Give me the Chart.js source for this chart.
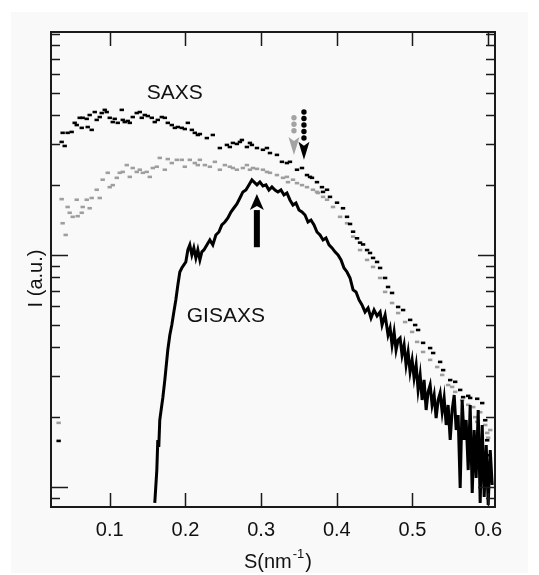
<!DOCTYPE html>
<html>
<head>
<meta charset="utf-8">
<script src="https://cdn.jsdelivr.net/npm/chart.js@4.4.0/dist/chart.umd.min.js"></script>
<style>
    html, body { margin: 0; padding: 0; background: #ffffff; }
</style>
</head>
<body>
<canvas id="grafica" width="539" height="575"></canvas>
<script>
// S (nm^-1) and I (a.u.), I = 1 at the lower decade tick

// SAXS, black dots
var saxsS = [
    0.0325, 0.0365, 0.0378, 0.0405, 0.0444, 0.0497, 0.0537, 0.0564, 0.0603, 0.0630,
    0.0643, 0.0696, 0.0709, 0.0735, 0.0762, 0.0802, 0.0828, 0.0868, 0.0894, 0.0934,
    0.0960, 0.1000, 0.1040, 0.1066, 0.1106, 0.1159, 0.1172, 0.1198, 0.1238, 0.1265,
    0.1304, 0.1357, 0.1397, 0.1423, 0.1463, 0.1503, 0.1556, 0.1595, 0.1635, 0.1688,
    0.1728, 0.1767, 0.1820, 0.1860, 0.1900, 0.1952, 0.1992, 0.2032, 0.2085, 0.2124,
    0.2164, 0.2191, 0.2283, 0.2362, 0.2455, 0.2548, 0.2587, 0.2627, 0.2680, 0.2720,
    0.2746, 0.2812, 0.2852, 0.2878, 0.2945, 0.3024, 0.3077, 0.3117, 0.3209, 0.3275,
    0.3341, 0.3381, 0.3474, 0.3540, 0.3606, 0.3646, 0.3672, 0.3738, 0.3804, 0.3818,
    0.3871, 0.3910, 0.4003, 0.4082, 0.4135, 0.4175, 0.4215, 0.4267, 0.4307, 0.4347,
    0.4400, 0.4439, 0.4479, 0.4532, 0.4572, 0.4638, 0.4677, 0.4730, 0.4810, 0.4876,
    0.4969, 0.5035, 0.5074, 0.5140, 0.5233, 0.5273, 0.5365, 0.5405, 0.5498, 0.5564,
    0.5630, 0.5669, 0.5736, 0.5762, 0.5855, 0.5921, 0.5961, 0.5987, 0.6013
];
var saxsI = [
    1.58, 30.7, 33.6, 29.5, 33.6, 33.9, 37.1, 36.3, 39.0, 35.3,
    39.0, 38.6, 35.6, 40.1, 34.6, 41.3, 38.2, 39.3, 40.9, 42.2,
    41.3, 39.0, 37.4, 38.6, 37.1, 42.2, 38.2, 37.4, 37.8, 37.1,
    39.3, 40.9, 41.3, 39.0, 40.1, 39.7, 39.0, 37.4, 38.2, 39.3,
    39.0, 37.1, 36.3, 35.3, 35.6, 35.3, 34.9, 37.1, 34.6, 33.6,
    32.9, 33.2, 31.9, 32.9, 28.9, 29.8, 29.2, 30.4, 30.1, 30.7,
    31.3, 29.2, 30.4, 29.8, 28.9, 28.4, 28.9, 27.5, 27.0, 25.2,
    24.9, 25.2, 23.3, 23.7, 22.1, 21.7, 21.5, 20.6, 19.6, 18.7,
    19.1, 17.8, 16.8, 15.9, 14.6, 13.6, 12.6, 11.8, 11.3, 11.1,
    10.5, 10.2, 9.71, 9.33, 8.79, 7.96, 7.28, 6.86, 5.97, 5.79,
    5.25, 4.99, 4.75, 4.18, 3.97, 3.78, 3.46, 3.19, 2.89, 2.84,
    2.62, 2.44, 2.47, 2.42, 2.40, 2.30, 1.94, 1.59, 1.37
];

// second SAXS curve, grey dots
var saxs2S = [
    0.0325, 0.0365, 0.0378, 0.0418, 0.0444, 0.0471, 0.0511, 0.0564, 0.0577, 0.0630,
    0.0643, 0.0696, 0.0735, 0.0762, 0.0828, 0.0868, 0.0907, 0.0974, 0.1000, 0.1040,
    0.1093, 0.1132, 0.1172, 0.1225, 0.1265, 0.1304, 0.1357, 0.1397, 0.1437, 0.1489,
    0.1529, 0.1569, 0.1622, 0.1661, 0.1728, 0.1767, 0.1820, 0.1886, 0.1952, 0.1992,
    0.2058, 0.2124, 0.2164, 0.2191, 0.2257, 0.2323, 0.2389, 0.2455, 0.2521, 0.2587,
    0.2627, 0.2680, 0.2759, 0.2812, 0.2852, 0.2892, 0.2945, 0.3024, 0.3077, 0.3117,
    0.3209, 0.3289, 0.3341, 0.3355, 0.3421, 0.3474, 0.3540, 0.3606, 0.3685, 0.3738,
    0.3752, 0.3818, 0.3871, 0.3950, 0.4043, 0.4135, 0.4215, 0.4307, 0.4400, 0.4479,
    0.4572, 0.4638, 0.4730, 0.4810, 0.4902, 0.4995, 0.5061, 0.5140, 0.5233, 0.5326,
    0.5392, 0.5471, 0.5524, 0.5564, 0.5656, 0.5736, 0.5802, 0.5828, 0.5855, 0.5895,
    0.5961, 0.5987, 0.6000, 0.6027
];
var saxs2I = [
    1.89, 17.4, 13.7, 12.2, 16.1, 15.2, 14.6, 17.3, 14.7, 15.2,
    16.1, 17.3, 15.9, 17.6, 19.1, 17.6, 21.1, 22.6, 19.6, 20.0,
    21.5, 22.6, 22.8, 24.4, 21.7, 23.7, 22.8, 23.3, 22.6, 22.8,
    21.7, 23.7, 24.0, 26.2, 23.3, 25.9, 24.9, 25.7, 25.7, 24.0,
    25.7, 24.9, 24.4, 25.7, 24.4, 24.0, 25.2, 23.3, 24.4, 24.0,
    23.7, 23.3, 23.7, 24.4, 23.3, 23.7, 23.5, 23.3, 22.8, 22.6,
    22.1, 21.5, 21.7, 20.6, 21.1, 20.4, 20.0, 19.6, 19.1, 18.7,
    18.5, 17.8, 17.3, 16.1, 14.6, 13.7, 12.0, 10.5, 9.52, 8.88,
    7.96, 6.93, 6.21, 5.62, 5.14, 4.66, 4.22, 3.82, 3.53, 3.29,
    3.04, 2.75, 2.70, 2.57, 2.37, 2.26, 2.21, 2.00, 1.91, 2.10,
    1.85, 1.71, 1.63, 1.76
];

// GISAXS, solid line
var gisS = [
    0.1595, 0.1622, 0.1635, 0.1648, 0.1661, 0.1688, 0.1701, 0.1728, 0.1741, 0.1767,
    0.1794, 0.1820, 0.1847, 0.1873, 0.1900, 0.1926, 0.1952, 0.1979, 0.2005, 0.2032,
    0.2058, 0.2085, 0.2111, 0.2138, 0.2164, 0.2191, 0.2217, 0.2244, 0.2283, 0.2323,
    0.2362, 0.2402, 0.2442, 0.2481, 0.2521, 0.2561, 0.2601, 0.2640, 0.2680, 0.2720,
    0.2759, 0.2799, 0.2839, 0.2878, 0.2918, 0.2945, 0.2984, 0.3024, 0.3064, 0.3103,
    0.3143, 0.3183, 0.3222, 0.3262, 0.3302, 0.3341, 0.3381, 0.3421, 0.3460, 0.3500,
    0.3540, 0.3580, 0.3619, 0.3659, 0.3699, 0.3738, 0.3778, 0.3818, 0.3857, 0.3897,
    0.3937, 0.3976, 0.4016, 0.4056, 0.4095, 0.4135, 0.4175, 0.4215, 0.4254, 0.4294,
    0.4333, 0.4373, 0.4413, 0.4452, 0.4492, 0.4532, 0.4572, 0.4598, 0.4638, 0.4677,
    0.4704, 0.4730, 0.4757, 0.4783, 0.4810, 0.4836, 0.4862, 0.4889, 0.4915, 0.4942,
    0.4968, 0.4995, 0.5021, 0.5048, 0.5074, 0.5101, 0.5127, 0.5153, 0.5180, 0.5206,
    0.5233, 0.5259, 0.5286, 0.5312, 0.5339, 0.5365, 0.5392, 0.5418, 0.5445, 0.5471,
    0.5498, 0.5524, 0.5551, 0.5577, 0.5603, 0.5630, 0.5656, 0.5683, 0.5709, 0.5736,
    0.5762, 0.5789, 0.5815, 0.5841, 0.5868, 0.5894, 0.5921, 0.5947, 0.5974, 0.6000,
    0.6027, 0.6053
];
var gisI = [
    0.854, 1.183, 1.595, 1.487, 1.944, 2.257, 2.419, 2.893, 3.195, 3.895,
    4.521, 4.993, 5.680, 6.399, 7.426, 8.448, 8.790, 9.056, 9.329, 10.51,
    11.05, 10.00, 10.72, 9.707, 10.51, 9.517, 10.31, 10.51, 11.05, 11.61,
    11.05, 12.19, 12.56, 13.47, 13.87, 14.44, 15.32, 15.94, 16.59, 17.60,
    18.69, 19.06, 20.04, 21.05, 20.44, 20.04, 20.64, 19.84, 20.04, 19.06,
    19.64, 19.06, 18.69, 19.06, 18.14, 18.50, 17.26, 16.42, 16.75, 15.63,
    15.32, 14.87, 13.87, 14.15, 13.47, 12.56, 12.19, 11.61, 11.84, 11.05,
    10.72, 10.31, 10.00, 9.517, 8.790, 8.448, 7.960, 7.067, 6.928, 6.399,
    6.089, 5.680, 5.909, 5.351, 5.794, 5.458, 5.680, 4.993, 5.513, 4.521,
    4.845, 4.094, 4.657, 3.895, 4.302, 4.388, 3.707, 4.094, 3.357, 3.819,
    3.132, 3.527, 2.950, 3.357, 2.619, 3.040, 2.371, 2.893, 2.147, 2.567,
    2.752, 2.257, 2.492, 1.983, 2.371, 2.542, 2.105, 2.419, 1.850, 2.257,
    1.595, 2.147, 2.492, 1.761, 2.043, 0.990, 2.371, 1.595, 1.944, 1.183,
    2.257, 0.942, 1.761, 1.093, 2.147, 0.854, 1.850, 0.906, 1.518, 0.837,
    1.443, 1.020
];

var xTicks = [0.1, 0.2, 0.3, 0.4, 0.5, 0.6];
var yMajorTicks = [1, 10];
var yMinorTicks = [0.9, 2, 3, 4, 5, 6, 7, 8, 9, 20, 30, 40, 50, 60, 70, 80, 90];
var xRange = [0.0224, 0.609];
var yRange = [0.82, 91.4];

// peak markers: S position, tail and tip intensity
var arrows = [
    { s: 0.2944, from: 10.8, to: 18.3, color: "#000000", dotted: false },
    { s: 0.3434, from: 39.0, to: 27.0, color: "#a3a3a3", dotted: true },
    { s: 0.3566, from: 41.3, to: 25.7, color: "#000000", dotted: true }
];
var labels = [
    { text: "SAXS", s: 0.1489, i: 47.0 },
    { text: "GISAXS", s: 0.2017, i: 5.14 }
];

function puntos(xs, ys) {
    var out = [];
    for (var k = 0; k < xs.length; k++) {
        out.push({ x: xs[k], y: ys[k] });
    }
    return out;
}

var FONT = "'Liberation Sans', Arial, sans-serif";

var decorado = {
    id: "decorado",
    beforeDraw: function (chart) {
        var ctx = chart.ctx;
        ctx.save();
        ctx.fillStyle = "#ffffff";
        ctx.fillRect(0, 0, chart.width, chart.height);
        ctx.fillStyle = "#f9f9f9";
        ctx.fillRect(11, 12, chart.width - 22, chart.height - 14);
        ctx.restore();
    },
    afterDatasetsDraw: function (chart) {
        var ctx = chart.ctx;
        var a = chart.chartArea;
        var sx = chart.scales.x;
        var sy = chart.scales.y;
        ctx.save();

        // frame
        ctx.strokeStyle = "#1a1a1a";
        ctx.lineWidth = 2;
        ctx.strokeRect(a.left, a.top, a.right - a.left, a.bottom - a.top);

        // inward ticks on all four sides
        ctx.lineWidth = 1.5;
        ctx.beginPath();
        xTicks.forEach(function (v) {
            var p = Math.round(sx.getPixelForValue(v)) + 0.5;
            ctx.moveTo(p, a.bottom); ctx.lineTo(p, a.bottom - 14);
            ctx.moveTo(p, a.top); ctx.lineTo(p, a.top + 14);
        });
        yMajorTicks.forEach(function (v) {
            var p = Math.round(sy.getPixelForValue(v)) + 0.5;
            ctx.moveTo(a.left, p); ctx.lineTo(a.left + 17, p);
            ctx.moveTo(a.right, p); ctx.lineTo(a.right - 17, p);
        });
        yMinorTicks.forEach(function (v) {
            var p = Math.round(sy.getPixelForValue(v)) + 0.5;
            ctx.moveTo(a.left, p); ctx.lineTo(a.left + 9, p);
            ctx.moveTo(a.right, p); ctx.lineTo(a.right - 9, p);
        });
        ctx.stroke();

        // arrows
        arrows.forEach(function (ar) {
            var x = sx.getPixelForValue(ar.s);
            var y0 = sy.getPixelForValue(ar.from);
            var y1 = sy.getPixelForValue(ar.to);
            var dir = y1 < y0 ? -1 : 1;
            var headLen = ar.dotted ? 18 : 16;
            var headW = ar.dotted ? 11 : 14;
            var base = y1 - dir * headLen;
            ctx.fillStyle = ar.color;
            if (ar.dotted) {
                for (var yy = y0; (yy - base) * dir < -2; yy += dir * 6.5) {
                    ctx.beginPath();
                    ctx.arc(x, yy, 2.7, 0, Math.PI * 2);
                    ctx.fill();
                }
            } else {
                ctx.fillRect(x - 3, Math.min(y0, base), 6, Math.abs(base - y0));
            }
            ctx.beginPath();
            ctx.moveTo(x, y1);
            ctx.lineTo(x - headW / 2, base);
            ctx.lineTo(x, base + dir * 4);
            ctx.lineTo(x + headW / 2, base);
            ctx.closePath();
            ctx.fill();
        });

        // curve names
        ctx.fillStyle = "#111111";
        ctx.font = "21px " + FONT;
        ctx.textAlign = "left";
        ctx.textBaseline = "alphabetic";
        labels.forEach(function (l) {
            ctx.fillText(l.text, sx.getPixelForValue(l.s), sy.getPixelForValue(l.i));
        });

        // axis titles
        ctx.font = "20px " + FONT;
        ctx.save();
        ctx.translate(a.left - 9, (a.top + a.bottom) / 2 + 9);
        ctx.rotate(-Math.PI / 2);
        ctx.textAlign = "center";
        ctx.fillText("I (a.u.)", 0, 0);
        ctx.restore();

        var w1 = ctx.measureText("S(nm").width;
        ctx.font = "13px " + FONT;
        var w2 = ctx.measureText("-1").width;
        ctx.font = "20px " + FONT;
        var w3 = ctx.measureText(")").width;
        var tx = (a.left + a.right) / 2 + 4 - (w1 + w2 + w3) / 2;
        var ty = a.bottom + 61;
        ctx.textAlign = "left";
        ctx.fillText("S(nm", tx, ty);
        ctx.font = "13px " + FONT;
        ctx.fillText("-1", tx + w1 + 1, ty - 10);
        ctx.font = "20px " + FONT;
        ctx.fillText(")", tx + w1 + w2 + 2, ty);

        ctx.restore();
    }
};

function mostrarGrafica() {
    var ctx = document.getElementById("grafica").getContext("2d");
    var grafica = new Chart(ctx, {
        type: "scatter",
        data: {
            datasets: [
                {
                    label: "GISAXS",
                    data: puntos(gisS, gisI),
                    showLine: true,
                    borderColor: "#000000",
                    borderWidth: 3,
                    pointRadius: 0,
                    tension: 0
                },
                {
                    label: "SAXS",
                    data: puntos(saxsS, saxsI),
                    showLine: false,
                    pointStyle: "line",
                    pointRadius: 2.2,
                    borderWidth: 2.6,
                    borderColor: "#000000",
                    backgroundColor: "#000000"
                },
                {
                    label: "SAXS 2",
                    data: puntos(saxs2S, saxs2I),
                    showLine: false,
                    pointStyle: "line",
                    pointRadius: 2.2,
                    borderWidth: 2.6,
                    borderColor: "#9e9e9e",
                    backgroundColor: "#9e9e9e"
                }
            ]
        },
        options: {
            responsive: false,
            animation: false,
            devicePixelRatio: 1,
            layout: {
                padding: { left: 51, top: 32, right: 44, bottom: 0 }
            },
            plugins: {
                legend: { display: false },
                tooltip: { enabled: false }
            },
            scales: {
                x: {
                    type: "linear",
                    min: xRange[0],
                    max: xRange[1],
                    grid: { display: false, drawTicks: false },
                    border: { display: false },
                    afterBuildTicks: function (scale) {
                        scale.ticks = xTicks.map(function (v) { return { value: v }; });
                    },
                    afterFit: function (scale) {
                        scale.height = 68;
                    },
                    ticks: {
                        color: "#111111",
                        padding: 11,
                        maxRotation: 0,
                        font: {
                            family: FONT,
                            size: 20
                        },
                        callback: function (value) {
                            return Number(value).toFixed(1);
                        }
                    }
                },
                y: {
                    type: "logarithmic",
                    display: false,
                    min: yRange[0],
                    max: yRange[1]
                }
            }
        },
        plugins: [decorado]
    });
}

mostrarGrafica();
</script>
</body>
</html>
